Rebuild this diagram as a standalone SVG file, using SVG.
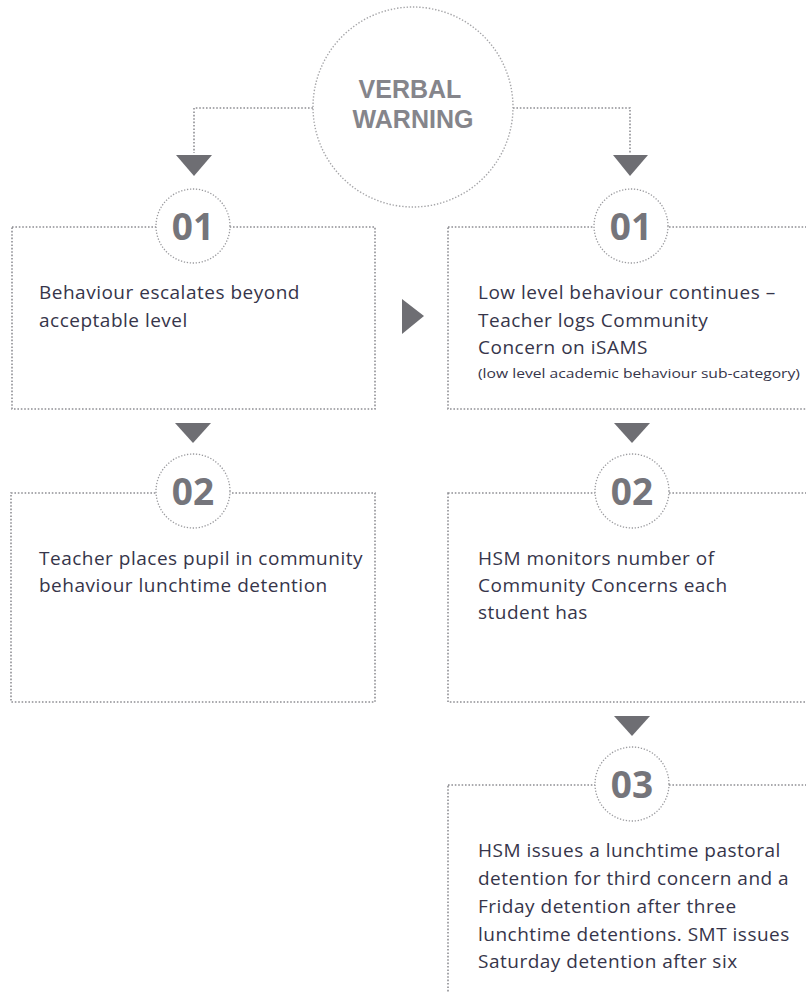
<svg xmlns="http://www.w3.org/2000/svg" width="806" height="992" viewBox="0 0 806 992">
  <style>
    .box { fill: none; stroke: #8f8f94; stroke-width: 1.6; stroke-dasharray: 1.6 1.8; }
    .ring { fill: #ffffff; stroke: #9a9a9e; stroke-width: 1.3; stroke-dasharray: 1.3 1.7; }
    .big { fill: #ffffff; stroke: #a5a5a8; stroke-width: 1.4; stroke-dasharray: 1.4 1.8; }
    .link { fill: none; stroke: #8f8f94; stroke-width: 1.6; stroke-dasharray: 1.6 1.8; }
    .arrow { fill: #6e6e73; }
    .num { font-family: "Open Sans", "Liberation Sans", sans-serif; font-weight: 700; font-size: 37px; fill: #75757b; text-anchor: middle; }
    .title { font-family: "Liberation Sans", Arial, sans-serif; font-weight: 700; font-size: 25px; fill: #85858b; text-anchor: middle; }
    .txt { font-family: "Open Sans", "Liberation Sans", sans-serif; font-size: 19px; letter-spacing: 0.5px; fill: #36354a; }
    .small { font-family: "Open Sans", "Liberation Sans", sans-serif; font-size: 12.5px; fill: #36354a; }
  </style>
  <rect width="806" height="992" fill="#ffffff"/>

  <g id="connectors">
    <path class="link" d="M313,108 H194 V153"/>
    <path class="link" d="M513,108 H630 V153"/>
    <polygon class="arrow" points="176,155 212,155 194,176"/>
    <polygon class="arrow" points="613,155 648,155 630,176"/>
    <polygon class="arrow" points="402,299 402,334 424,316"/>
    <polygon class="arrow" points="175,423 211,423 193,443"/>
    <polygon class="arrow" points="614,423 650,423 632,443"/>
    <polygon class="arrow" points="614,716 650,716 632,736"/>
  </g>

  <g id="verbal-warning">
    <circle class="big" cx="413" cy="107" r="100"/>
    <text class="title" x="410" y="98">VERBAL</text>
    <text class="title" x="413" y="128">WARNING</text>
  </g>

  <g id="left-01">
    <rect class="box" x="12" y="227" width="363" height="182"/>
    <circle class="ring" cx="193" cy="226" r="37"/>
    <text class="num" x="193" y="240">01</text>
    <text class="txt" x="39" y="299">Behaviour escalates beyond</text>
    <text class="txt" x="39" y="327">acceptable level</text>
  </g>

  <g id="left-02">
    <rect class="box" x="11" y="493" width="364" height="209"/>
    <circle class="ring" cx="193" cy="491" r="37"/>
    <text class="num" x="193" y="505">02</text>
    <text class="txt" x="39" y="565">Teacher places pupil in community</text>
    <text class="txt" x="39" y="592">behaviour lunchtime detention</text>
  </g>

  <g id="right-01">
    <rect class="box" x="448" y="227" width="380" height="182"/>
    <circle class="ring" cx="631" cy="226" r="37"/>
    <text class="num" x="631" y="240">01</text>
    <text class="txt" x="478" y="299">Low level behaviour continues –</text>
    <text class="txt" x="478" y="327">Teacher logs Community</text>
    <text class="txt" x="478" y="354">Concern on iSAMS</text>
    <text class="small" x="478" y="378" textLength="322" lengthAdjust="spacingAndGlyphs">(low level academic behaviour sub-category)</text>
  </g>

  <g id="right-02">
    <rect class="box" x="448" y="493" width="380" height="209"/>
    <circle class="ring" cx="632" cy="491" r="37"/>
    <text class="num" x="632" y="505">02</text>
    <text class="txt" x="478" y="565">HSM monitors number of</text>
    <text class="txt" x="478" y="592">Community Concerns each</text>
    <text class="txt" x="478" y="619">student has</text>
  </g>

  <g id="right-03">
    <rect class="box" x="448" y="785" width="380" height="240"/>
    <circle class="ring" cx="632" cy="784" r="37"/>
    <text class="num" x="632" y="798">03</text>
    <text class="txt" x="478" y="857">HSM issues a lunchtime pastoral</text>
    <text class="txt" x="478" y="885">detention for third concern and a</text>
    <text class="txt" x="478" y="913">Friday detention after three</text>
    <text class="txt" x="478" y="941">lunchtime detentions. SMT issues</text>
    <text class="txt" x="478" y="968">Saturday detention after six</text>
  </g>
</svg>
